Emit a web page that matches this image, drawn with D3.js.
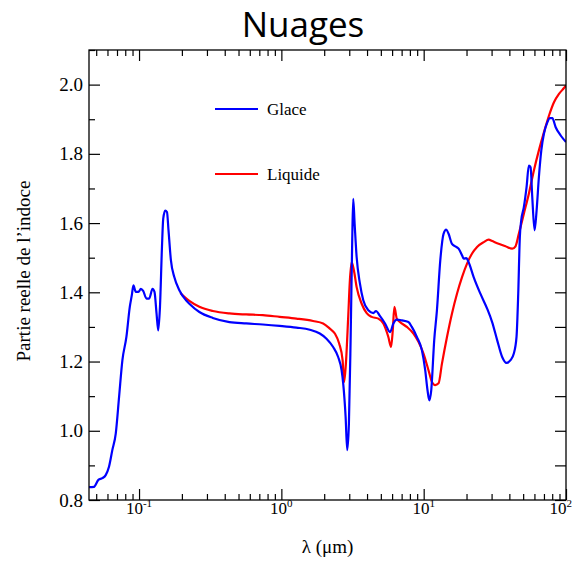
<!DOCTYPE html>
<html><head><meta charset="utf-8">
<script src="https://cdn.jsdelivr.net/npm/d3@7"></script>
<style>html,body{margin:0;padding:0;background:#fff;}svg{display:block;}</style>
</head><body>
<svg id="c" width="573" height="562"></svg>
<script>
const glaceLambda = [0.0445,0.0482,0.0518,0.0552,0.0583,0.0615,0.0649,0.0686,0.0724,0.0764,
0.0815,0.0861,0.0889,0.0913,0.0949,0.0990,0.1030,0.1069,0.1128,0.1178,
0.1243,0.1284,0.1327,0.1364,0.1403,0.1449,0.1479,0.1528,0.1571,0.1611,
0.1675,0.1769,0.1919,0.2138,0.2256,0.2654,0.3296,0.4317,0.5662,0.7413,
0.9727,1.276,1.584,1.862,2.076,2.311,2.507,2.649,2.719,2.828,
2.902,2.983,3.066,3.147,3.198,3.272,3.380,3.566,3.763,4.081,
4.426,4.624,4.935,5.353,5.804,6.124,6.471,7.019,7.812,8.256,
8.954,9.712,10.25,10.64,10.94,11.30,11.86,12.39,13.08,13.79,
14.41,14.96,15.81,16.68,17.60,18.60,19.09,19.94,20.70,22.45,
25.03,27.91,30.27,32.83,35.61,38.18,40.74,42.99,44.91,46.17,
47.38,48.47,50.56,52.83,54.84,56.38,57.94,60.16,62.14,64.50,
67.06,69.96,73.92,77.12,80.19,84.61,91.76,100];
const glaceN = [0.837,0.838,0.858,0.863,0.872,0.896,0.944,0.992,1.098,1.204,
1.271,1.358,1.391,1.420,1.401,1.401,1.410,1.404,1.382,1.382,
1.410,1.401,1.339,1.290,1.358,1.531,1.613,1.636,1.632,1.579,
1.492,1.444,1.406,1.377,1.367,1.343,1.326,1.314,1.310,1.307,
1.303,1.298,1.292,1.281,1.266,1.242,1.213,1.175,1.137,1.040,
0.944,1.021,1.262,1.550,1.670,1.598,1.502,1.425,1.377,1.348,
1.340,1.346,1.331,1.310,1.285,1.310,1.321,1.319,1.314,1.300,
1.271,1.233,1.175,1.117,1.088,1.117,1.262,1.348,1.492,1.569,
1.581,1.569,1.540,1.533,1.526,1.507,1.497,1.499,1.487,1.444,
1.396,1.353,1.314,1.262,1.213,1.196,1.204,1.223,1.271,1.396,
1.559,1.608,1.646,1.704,1.766,1.761,1.675,1.579,1.636,1.733,
1.810,1.858,1.891,1.903,1.903,1.877,1.853,1.834];
const liquideLambda = [0.195,0.2256,0.2654,0.3296,0.4317,0.5662,0.7413,0.9727,1.276,1.671,
1.965,2.191,2.376,2.548,2.693,2.762,2.841,2.949,3.031,3.116,
3.235,3.380,3.666,3.976,4.312,4.800,5.207,5.646,5.900,6.064,
6.224,6.471,6.828,7.612,8.474,9.191,9.968,10.81,11.43,12.05,
12.72,13.44,14.58,15.81,17.14,18.60,20.17,21.88,23.72,26.42,
28.64,30.27,32.83,37.56,41.88,44.19,46.62,50.56,54.84,59.48,
64.50,69.96,75.88,82.31,89.25,96.8,100];
const liquideN = [1.398,1.375,1.358,1.346,1.339,1.336,1.334,1.329,1.324,1.317,
1.310,1.295,1.281,1.252,1.204,1.141,1.194,1.329,1.435,1.487,
1.463,1.415,1.367,1.340,1.329,1.324,1.310,1.271,1.242,1.290,
1.358,1.324,1.314,1.300,1.281,1.257,1.223,1.175,1.141,1.132,
1.137,1.194,1.271,1.339,1.396,1.444,1.483,1.512,1.531,1.545,
1.552,1.548,1.542,1.533,1.526,1.533,1.569,1.627,1.685,1.752,
1.810,1.862,1.910,1.949,1.973,1.990,1.997];
const seriesNames = ["Glace", "Liquide"];
const seriesColors = ["#0000ff", "#ff0000"];
const xMajorTicks = [0.1, 1, 10, 100];
const xExponents = ["-1", "0", "1", "2"];
const xMinorTicks = [0.05,0.06,0.07,0.08,0.09,0.2,0.3,0.4,0.5,0.6,0.7,0.8,0.9,2,3,4,5,6,7,8,9,20,30,40,50,60,70,80,90];
const yMajorTicks = [0.8, 1.0, 1.2, 1.4, 1.6, 1.8, 2.0];
const yMinorTicks = [0.9, 1.1, 1.3, 1.5, 1.7, 1.9, 2.1];
const yAllTicks = [0.8,0.9,1.0,1.1,1.2,1.3,1.4,1.5,1.6,1.7,1.8,1.9,2.0];

const L = 89, R = 566, T = 50, B = 500, W = 573;
const svg = d3.select("#c");
const x = d3.scaleLog().domain([0.0445, 100]).range([L, R]);
const y = d3.scaleLinear().domain([0.8, 2.1]).range([B, T]);
const serif = "'Liberation Serif','Times New Roman',serif";

// Title
svg.append("text").attr("x", 303).attr("y", 37).attr("text-anchor", "middle")
  .attr("font-family", "'Open Sans','Noto Sans',sans-serif").attr("font-size", 35)
  .attr("fill", "#000").text("Nuages");

// clip
svg.append("defs").append("clipPath").attr("id", "clip")
  .append("rect").attr("x", L).attr("y", T).attr("width", R - L).attr("height", B - T);

const data = [
  glaceLambda.map((l, i) => [l, glaceN[i]]),
  liquideLambda.map((l, i) => [l, liquideN[i]])
];
const line = d3.line().x(d => x(d[0])).y(d => y(d[1])).curve(d3.curveMonotoneX);
const g = svg.append("g").attr("clip-path", "url(#clip)");
[1, 0].forEach(i => {
  g.append("path").attr("d", line(data[i])).attr("fill", "none")
    .attr("stroke", seriesColors[i]).attr("stroke-width", 2.2).attr("stroke-linejoin", "round");
});

// Axes
function styleAxis(sel) {
  sel.selectAll(".domain").remove();
  sel.selectAll(".tick line").attr("stroke", "#000").attr("stroke-width", 1.2);
}
svg.append("g").attr("transform", `translate(0,${B})`)
  .call(d3.axisBottom(x).tickValues(xMajorTicks).tickSize(-11).tickFormat(""))
  .call(styleAxis);
svg.append("g").attr("transform", `translate(0,${B})`)
  .call(d3.axisBottom(x).tickValues(xMinorTicks).tickSize(-6).tickFormat(""))
  .call(styleAxis);
svg.append("g").attr("transform", `translate(0,${T})`)
  .call(d3.axisTop(x).tickValues(xMajorTicks).tickSize(-11).tickFormat(""))
  .call(styleAxis);
svg.append("g").attr("transform", `translate(0,${T})`)
  .call(d3.axisTop(x).tickValues(xMinorTicks).tickSize(-6).tickFormat(""))
  .call(styleAxis);
const leftAx = svg.append("g").attr("transform", `translate(${L},0)`)
  .call(d3.axisLeft(y).tickValues(yMajorTicks).tickSize(-11).tickPadding(6).tickFormat(d3.format(".1f")))
  .call(styleAxis);
leftAx.selectAll(".tick text").attr("font-family", serif).attr("font-size", 19).attr("fill", "#000");
svg.append("g").attr("transform", `translate(${L},0)`)
  .call(d3.axisLeft(y).tickValues(yMinorTicks).tickSize(-6).tickFormat(""))
  .call(styleAxis);
svg.append("g").attr("transform", `translate(${R},0)`)
  .call(d3.axisRight(y).tickValues(yAllTicks).tickSize(-11).tickFormat(""))
  .call(styleAxis);

svg.append("rect").attr("x", L).attr("y", T).attr("width", R - L).attr("height", B - T)
  .attr("fill", "none").attr("stroke", "#000").attr("stroke-width", 1.3);

// x tick labels with superscripts (last one kept inside the page)
const xl = svg.append("g").selectAll("text").data(xMajorTicks).join("text")
  .attr("x", (d, i) => i === xMajorTicks.length - 1 ? W - 1 : x(d))
  .attr("y", 514)
  .attr("text-anchor", (d, i) => i === xMajorTicks.length - 1 ? "end" : "middle")
  .attr("font-family", serif).attr("font-size", 17).attr("fill", "#000");
xl.append("tspan").text("10");
xl.append("tspan").attr("dy", -7).attr("font-size", 11).text((d, i) => xExponents[i]);

svg.append("text").attr("x", (L + R) / 2).attr("y", 553).attr("text-anchor", "middle")
  .attr("font-family", serif).attr("font-size", 19).attr("fill", "#000").text("λ (μm)");
svg.append("text").attr("transform", "translate(30,271) rotate(-90)").attr("text-anchor", "middle")
  .attr("font-family", serif).attr("font-size", 19).attr("fill", "#000").text("Partie reelle de l’indoce");

const legY = [109, 174];
seriesNames.forEach((name, i) => {
  svg.append("line").attr("x1", 215).attr("x2", 258).attr("y1", legY[i]).attr("y2", legY[i])
    .attr("stroke", seriesColors[i]).attr("stroke-width", 2.2);
  svg.append("text").attr("x", 267).attr("y", legY[i] + 6).attr("font-family", serif)
    .attr("font-size", 17).attr("fill", "#000").text(name);
});
</script>
</body></html>
